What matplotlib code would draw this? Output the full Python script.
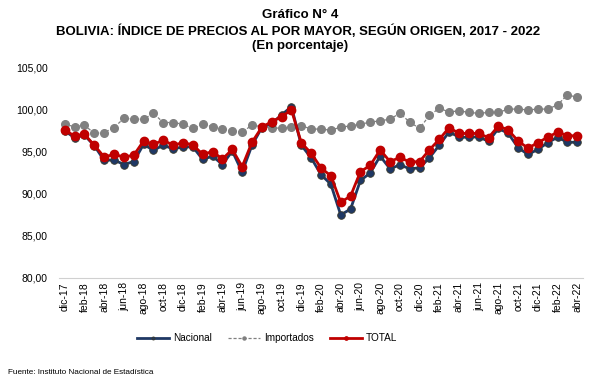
import matplotlib

matplotlib.use("Agg")
import matplotlib.pyplot as plt  # noqa: E402
from matplotlib.ticker import FuncFormatter  # noqa: E402

plt.rcParams["font.family"] = ["Liberation Sans", "DejaVu Sans"]

MONTHS = ["ene", "feb", "mar", "abr", "may", "jun", "jul", "ago", "sep", "oct", "nov", "dic"]
periods = ["dic-17"] + [f"{m}-{y}" for y in ("18", "19", "20", "21") for m in MONTHS] + \
    ["ene-22", "feb-22", "mar-22", "abr-22"]

nacional = [
    97.5, 96.7, 97.0, 95.75, 94.0, 94.05, 93.5, 93.85, 95.9, 95.2, 95.8, 95.35, 95.6,
    95.6, 94.1, 94.5, 93.5, 95.1, 92.6, 95.8, 97.9, 98.4, 99.4, 100.4, 95.8, 94.3,
    92.3, 91.15, 87.5, 88.2, 91.6, 92.5, 94.5, 93.0, 93.45, 93.0, 93.1, 94.3, 95.8,
    97.4, 96.75, 96.75, 96.8, 96.25, 97.8, 97.2, 95.5, 94.7, 95.3, 96.1, 96.75, 96.15,
    96.15,
]
importados = [
    98.3, 98.0, 98.2, 97.2, 97.3, 97.9, 99.0, 98.9, 98.9, 99.6, 98.5, 98.5, 98.3,
    97.8, 98.3, 98.0, 97.7, 97.5, 97.35, 98.2, 98.0, 97.9, 97.8, 98.0, 98.1, 97.75,
    97.7, 97.6, 97.95, 98.1, 98.3, 98.55, 98.7, 98.9, 99.6, 98.55, 97.8, 99.35, 100.2,
    99.75, 99.9, 99.7, 99.6, 99.7, 99.7, 100.1, 100.1, 100.0, 100.1, 100.1, 100.6,
    101.8, 101.5,
]
total = [
    97.6, 96.9, 97.1, 95.8, 94.4, 94.7, 94.4, 94.6, 96.3, 95.9, 96.4, 95.8, 96.1,
    95.85, 94.7, 95.05, 94.15, 95.3, 93.25, 96.15, 97.95, 98.6, 99.2, 100.0, 96.1, 94.85,
    93.1, 92.15, 89.0, 89.75, 92.65, 93.4, 95.25, 93.85, 94.35, 93.8, 93.85, 95.25, 96.5,
    97.9, 97.2, 97.2, 97.2, 96.7, 98.1, 97.6, 96.3, 95.45, 96.1, 96.75, 97.35, 96.95,
    96.9,
]

x = list(range(len(periods)))

fig = plt.figure(figsize=(6.0, 3.86), dpi=100)
ax = fig.add_axes([0.098, 0.280, 0.874, 0.544])

ax.plot(x, nacional, color="#1F3864", lw=2.0, marker="o", ms=5.5,
        markerfacecolor="#1F3864", markeredgecolor="#3a3a2a", markeredgewidth=0.6,
        label="Nacional", zorder=3)
ax.plot(x, importados, color="#808080", lw=0.9, ls=(0, (2.5, 1.5)), marker="o", ms=5.5,
        markerfacecolor="#808080", markeredgecolor="#808080", label="Importados", zorder=2)
ax.plot(x, total, color="#C00000", lw=2.0, marker="o", ms=6,
        markerfacecolor="#C00000", markeredgecolor="#C00000", label="TOTAL", zorder=4)

ax.set_ylim(80, 105)
ax.set_yticks([80, 85, 90, 95, 100, 105])
ax.yaxis.set_major_formatter(FuncFormatter(lambda v, _: f"{v:.2f}".replace(".", ",")))
ax.set_xlim(-0.6, len(periods) - 0.4)
ax.set_xticks(x[::2])
ax.set_xticklabels(periods[::2], rotation=90, fontsize=7.5)
ax.tick_params(axis="y", length=0, labelsize=7.5, pad=8)
ax.tick_params(axis="x", length=0, pad=3)

for side in ("top", "right", "left"):
    ax.spines[side].set_visible(False)
ax.spines["bottom"].set_color("#d0d0d0")

fig.text(0.5, 0.961, "Gráfico N° 4", ha="center", va="center", fontsize=9.5, weight="bold")
fig.text(0.497, 0.918, "BOLIVIA: ÍNDICE DE PRECIOS AL POR MAYOR, SEGÚN ORIGEN, 2017 - 2022",
         ha="center", va="center", fontsize=9.5, weight="bold")
fig.text(0.5, 0.881, "(En porcentaje)", ha="center", va="center", fontsize=9.5, weight="bold")

fig.legend(loc="center", bbox_to_anchor=(0.445, 0.124), ncol=3, frameon=False,
           fontsize=7.2, handlelength=3.2, handletextpad=0.4, markerscale=0.4,
           columnspacing=1.6)

fig.text(0.013, 0.036, "Fuente: Instituto Nacional de Estadística", fontsize=5.9,
         ha="left", va="center")

fig.savefig("out.png", dpi=100)
